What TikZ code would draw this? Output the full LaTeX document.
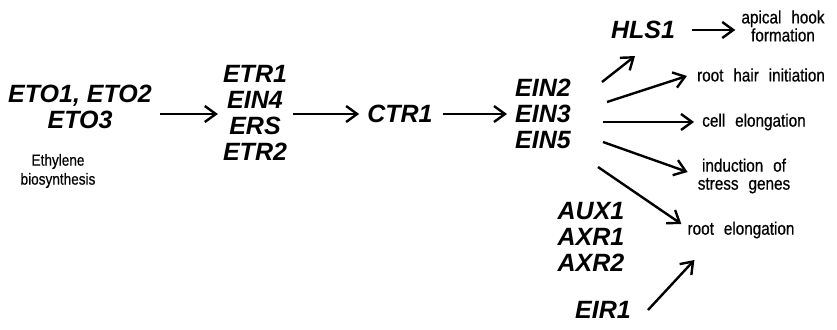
\documentclass[tikz,border=0pt]{standalone}
\usepackage{fontspec}
\setmainfont{Liberation Sans}
\newfontfamily\lblfont{Liberation Sans}[FakeStretch=0.85,FakeBold=0.6]
\usetikzlibrary{arrows.meta}
\newcommand\widespace{\spaceskip=0.55em plus 0.1em\relax}

\begin{document}
\begin{tikzpicture}[x=1pt,y=-1pt,
    gene/.style={font=\fontsize{25}{26}\selectfont\bfseries\itshape, align=center, inner sep=0pt},
    lbl/.style={font=\lblfont\fontsize{18}{18}\selectfont\widespace, align=center, inner sep=0pt},
    arr/.style={line width=2.4pt, -{Straight Barb[length=11pt,width=16pt,line width=2.4pt]}}]
  \useasboundingbox (0,0) rectangle (837,329);
  % ethylene signalling chain
  \node[gene] (eto) at (80,107) {ETO1, ETO2\\ETO3};
  \node[lbl,font=\lblfont\fontsize{16}{19}\selectfont] (eth) at (58,171) {Ethylene\\biosynthesis};
  \node[gene] (etr) at (255,113) {ETR1\\EIN4\\ERS\\ETR2};
  \node[gene] (ctr) at (400,114) {CTR1};
  \node[gene] (ein) at (543,114) {EIN2\\EIN3\\EIN5};
  \node[gene] (hls) at (643,30) {HLS1};
  \node[gene] (aux) at (591,237) {AUX1\\AXR1\\AXR2};
  \node[gene] (eir) at (603,310) {EIR1};
  % responses
  \node[lbl] (hook) at (783,26) {apical hook\\formation};
  \node[lbl] (hair) at (761,75) {root hair initiation};
  \node[lbl] (cell) at (754,122) {cell elongation};
  \node[lbl] (stress) at (744,176) {induction of\\stress genes};
  \node[lbl] (root) at (741,230) {root elongation};
  % arrows
  \draw[arr] ([xshift=8pt]eto.east |- ctr) -- ([xshift=-5pt]etr.west |- ctr);
  \draw[arr] ([xshift=6pt]etr.east |- ctr) -- ([xshift=-8pt]ctr.west);
  \draw[arr] ([xshift=10pt]ctr.east) -- ([xshift=-8pt]ein.west |- ctr);
  \draw[arr] ([shift={(31,-32)}]ein.east) -- ([shift={(-8,17)}]hls.south);
  \draw[arr] ([shift={(36,-12)}]ein.east) -- ([shift={(-10,1)}]hair.west);
  \draw[arr] ([shift={(32,8)}]ein.east) -- ([xshift=-8pt]cell.west);
  \draw[arr] ([shift={(32,28)}]ein.east) -- ([shift={(-10,-4)}]stress.west);
  \draw[arr] ([shift={(27,53)}]ein.east) -- ([shift={(-6,-6)}]root.west);
  \draw[arr] ([xshift=17pt]eir.east) -- ([shift={(7,30)}]root.west);
  \draw[arr] ([xshift=17pt]hls.east) -- ([xshift=-6pt]hls.east -| hook.west);
\end{tikzpicture}
\end{document}
